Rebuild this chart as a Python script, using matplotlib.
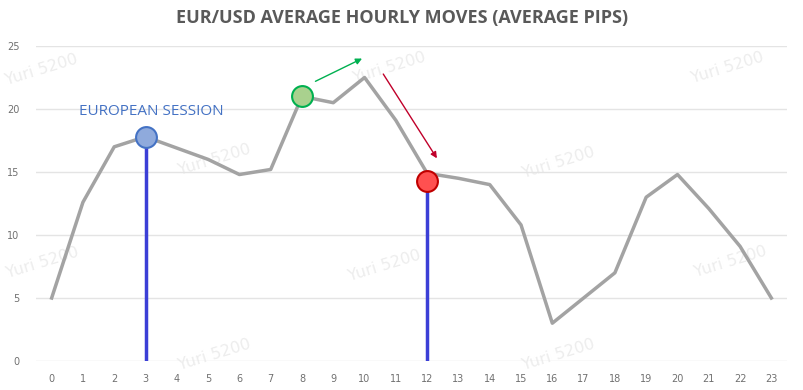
import numpy as np
import matplotlib.pyplot as plt

# average pips per hour
hours = list(range(24))
pips = [5.0, 12.6, 17.0, 17.8, 16.9, 16.0, 14.8, 15.2, 21.0, 20.5, 22.5, 19.1,
        14.9, 14.5, 14.0, 10.8, 3.0, 5.0, 7.0, 13.0, 14.8, 12.1, 9.1, 5.0]

# highlighted points: hour, value, fill, edge
marks = [(3, 17.8, "#8FAADC", "#4472C4"),
         (8, 21.0, "#A9D18E", "#00B050"),
         (12, 14.3, "#FF5050", "#C00000")]
session_lines = [(3, 17.8), (12, 14.3)]

# watermark centres
watermarks = [(-0.32, 23.1), (10.8, 23.25), (21.6, 23.25), (5.2, 15.95), (16.2, 15.7),
              (-0.3, 7.8), (10.65, 7.6), (21.7, 7.85), (5.2, 0.5), (16.2, 0.5)]

fig = plt.figure(figsize=(8.04, 3.9), dpi=100)
ax = fig.add_axes([36/804, 1 - 361/390, (787-36)/804, (361-46)/390])

ax.set_xlim(-0.5, 23.5)
ax.set_ylim(0, 25)
ax.set_yticks([0, 5, 10, 15, 20, 25])
ax.set_xticks(hours)
ax.grid(axis="y", color="#E4E4E4", linewidth=1)
ax.set_axisbelow(True)
for s in ax.spines.values():
    s.set_visible(False)
ax.tick_params(length=0, colors="#707070", labelsize=7)
ax.tick_params(axis="x", pad=9)
ax.tick_params(axis="y", pad=12)

for wx, wy in watermarks:
    ax.text(wx, wy, "Yuri 5200", color="#EDEDED", fontsize=11.5, rotation=17,
            ha="center", va="center", rotation_mode="anchor",
            clip_on=False, zorder=0)

ax.plot(hours, pips, color="#A3A3A3", linewidth=2.5, zorder=2)

for hx, hy in session_lines:
    ax.plot([hx, hx], [0, hy], color="#3B3FD6", linewidth=2.5, zorder=3)

for hx, hy, fc, ec in marks:
    ax.plot(hx, hy, "o", markersize=15, markerfacecolor=fc, markeredgecolor=ec,
            markeredgewidth=1.5, zorder=4)

ax.annotate("", xy=(10.0, 24.1), xytext=(8.35, 22.1),
            arrowprops=dict(arrowstyle="-|>", color="#00B050", lw=1, mutation_scale=9))
ax.annotate("", xy=(12.36, 15.9), xytext=(10.55, 22.96),
            arrowprops=dict(arrowstyle="-|>", color="#C0002A", lw=1, mutation_scale=9))

ax.text(3.17, 19.8, "EUROPEAN SESSION", color="#4472C4", fontsize=11,
        family="Open Sans", ha="center", va="center")

fig.text(0.5, 1 - 18/390, "EUR/USD AVERAGE HOURLY MOVES (AVERAGE PIPS)",
         ha="center", va="center", fontsize=13, fontweight="bold",
         family="Open Sans", color="#595959")

fig.savefig("out.png", dpi=100)
